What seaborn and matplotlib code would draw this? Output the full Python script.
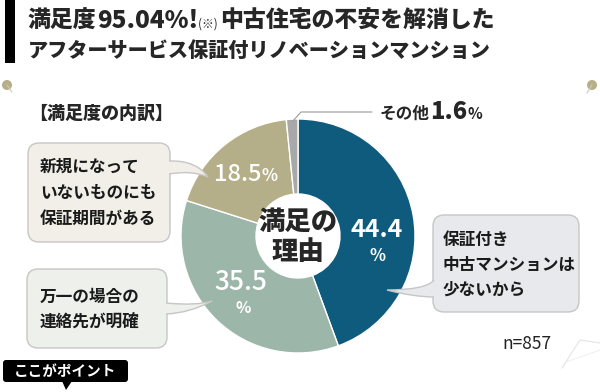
import matplotlib
matplotlib.use("Agg")
import matplotlib.pyplot as plt
import seaborn as sns
from matplotlib.patches import FancyBboxPatch, PathPatch, Rectangle, Circle, Polygon
from matplotlib.path import Path

# ---------------- data ----------------
reasons = ["保証付き\n中古マンションは\n少ないから",
           "万一の場合の\n連絡先が明確",
           "新規になって\nいないものにも\n保証期間がある",
           "その他"]
shares = [44.4, 35.5, 18.5, 1.6]
colors = ["#0f5b7d", "#9db6aa", "#b4af88", "#a8a8a8"]
satisfaction = "95.04"
sample_n = 857

# ---------------- style ----------------
sns.set_theme(style="white")
FAM = ['Noto Sans CJK JP', 'DejaVu Sans']
plt.rcParams['font.family'] = FAM
HEAVY = 900

W, H = 600, 392
fig = plt.figure(figsize=(6, 3.92), dpi=100)
fig.patch.set_facecolor("white")

# donut
cx, cy, R, r = 298, 236, 117, 42
pax = fig.add_axes([(cx - R) / W, (H - cy - R) / H, 2 * R / W, 2 * R / H])
pax.pie(shares, colors=colors, startangle=90, counterclock=False, radius=1,
        wedgeprops=dict(width=1 - r / R, edgecolor="white", linewidth=1))
pax.set_xlim(-1, 1)
pax.set_ylim(-1, 1)
pax.set_aspect("equal")
pax.axis("off")

# overlay in pixel coordinates
ax = fig.add_axes([0, 0, 1, 1])
ax.set_xlim(0, W)
ax.set_ylim(H, 0)
ax.axis("off")
renderer = fig.canvas.get_renderer()


def chain(x, y, parts):
    for s, kw in parts:
        t = ax.text(x, y, s, ha="left", va="baseline", **kw)
        x += t.get_window_extent(renderer).width
    return x


# title
ax.add_patch(Rectangle((5, 0), 10, 63, fc="black", ec="none"))
chain(28, 28, [("満足度", dict(fontsize=16.5, fontweight=HEAVY)),
               (satisfaction + "%!", dict(fontsize=17.5, fontweight=HEAVY)),
               ("(※) ", dict(fontsize=8.5)),
               ("中古住宅の不安を解消した", dict(fontsize=16.5, fontweight=HEAVY))])
ax.text(28, 57, "アフターサービス保証付リノベーションマンション", ha="left",
        va="baseline", fontsize=14.5, fontweight=HEAVY)

# decorative pins
for (px, py, lx, ly) in [(7, 85, 12, 92), (592, 85, 587, 93)]:
    ax.plot([px, lx], [py, ly], color="#c8c8c8", lw=0.8)
    ax.add_patch(Circle((px, py), 5, fc="#b6af88", ec="none"))

ax.text(29, 113, "【満足度の内訳】", ha="left", va="center", fontsize=13, fontweight=HEAVY)

# callouts
M, C3, CL = Path.MOVETO, Path.CURVE3, Path.CLOSEPOLY


def callout(x0, y0, x1, y1, fc, a, c1, tip, c2, b):
    ax.add_patch(FancyBboxPatch((x0, y0), x1 - x0, y1 - y0,
                                boxstyle="round,pad=0,rounding_size=11",
                                fc=fc, ec="#c6c6c6", lw=1, zorder=3))
    verts = [a, c1, tip, c2, b, a]
    codes = [M, C3, C3, C3, C3, CL]
    ax.add_patch(PathPatch(Path(verts, codes), fc=fc, ec="none", zorder=4))
    ax.add_patch(PathPatch(Path(verts[:5], codes[:5]), fc="none", ec="#c6c6c6",
                           lw=1, zorder=4))


callout(28, 143, 170, 242, "#f1efe8", (169, 161), (196, 160), (208, 177), (192, 170), (169, 174))
callout(27, 269, 167, 348, "#eef0ec", (166, 303), (196, 306), (212, 301), (190, 313), (166, 314))
callout(433, 215, 579, 312, "#e8e9ec", (434, 280), (426, 290), (387, 290), (414, 297), (434, 297))

body = dict(fontsize=12, fontweight="bold", color="#1a1a1a", ha="left", va="center", zorder=5)
for i, line in enumerate(reasons[2].split("\n")):
    ax.text(40, 167 + 26 * i, line, **body)
for i, line in enumerate(reasons[1].split("\n")):
    ax.text(40, 297 + 25 * i, line, **body)
for i, line in enumerate(reasons[0].split("\n")):
    ax.text(443, 240 + 25 * i, line, **body)

# other label + leader
ax.plot([293, 301, 372], [121, 112, 112], color="#9a9a9a", lw=0.8)
chain(380, 119, [(reasons[3], dict(fontsize=12, fontweight="bold")),
                 (f"{shares[3]}", dict(fontsize=17, fontweight=HEAVY)),
                 ("%", dict(fontsize=11, fontweight="bold"))])

# slice labels
ax.text(377, 230, f"{shares[0]}", ha="center", va="center", color="white",
        fontsize=18, fontweight="bold", zorder=5)
ax.text(377, 256, "%", ha="center", va="center", color="white", fontsize=12,
        fontweight="bold", zorder=5)
ax.text(241, 282, f"{shares[1]}", ha="center", va="center", color="white",
        fontsize=19, fontweight="medium", zorder=5)
ax.text(243, 308, "%", ha="center", va="center", color="white", fontsize=11.5,
        fontweight="bold", zorder=5)
chain(214, 181, [(f"{shares[2]}", dict(fontsize=17, color="white", fontweight="medium")),
                 ("%", dict(fontsize=12, color="white", fontweight="bold"))])

# center
ax.text(298, 222, "満足の", ha="center", va="center", fontsize=19, fontweight=HEAVY)
ax.text(298, 252, "理由", ha="center", va="center", fontsize=19, fontweight=HEAVY)

# n
ax.text(502, 344, f"n={sample_n}", ha="left", va="center", fontsize=12.5, color="#222222")

# point label
ax.add_patch(FancyBboxPatch((3, 360), 125, 22, boxstyle="round,pad=0,rounding_size=3",
                            fc="black", ec="none"))
ax.add_patch(Polygon([(62, 381), (72, 381), (66, 390)], closed=True, fc="black", ec="none"))
ax.text(65, 371, "ここがポイント", ha="center", va="center", color="white",
        fontsize=10.5, fontweight="bold")

# faint decorative corner
ax.plot([562, 580, 600], [368, 340, 343], color="#e4e4e4", lw=0.8)
ax.plot([566, 600], [362, 350], color="#ececec", lw=0.6)

fig.savefig("out.png", dpi=100, facecolor="white")
